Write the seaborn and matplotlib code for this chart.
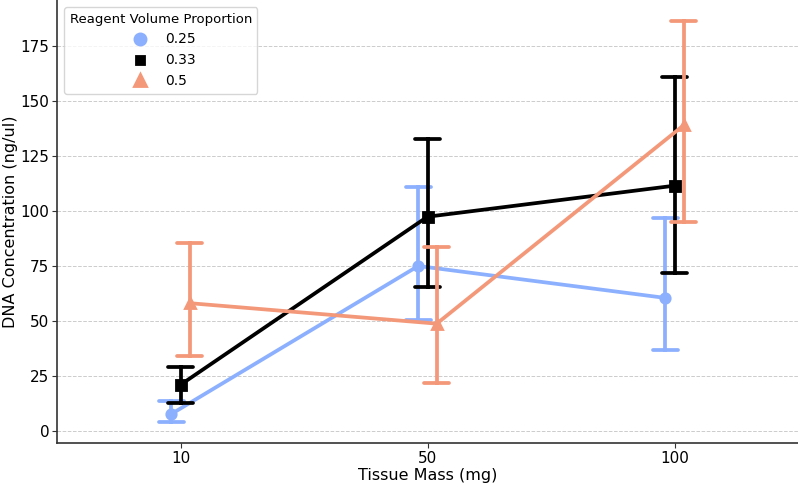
import pandas as pd
import matplotlib
matplotlib.use("Agg")
import matplotlib.pyplot as plt
import seaborn as sns

# Values: mean with lower / upper interval bounds
tissue_mass = ["10", "50", "100"]
proportions = ["0.25", "0.33", "0.5"]

mean_025 = [7.7, 75.0, 60.5]
low_025 = [4.0, 50.5, 36.8]
high_025 = [13.8, 110.8, 97.0]

mean_033 = [21.0, 97.4, 111.5]
low_033 = [12.8, 65.5, 71.6]
high_033 = [29.3, 132.6, 161.0]

mean_05 = [58.1, 48.8, 139.0]
low_05 = [34.0, 21.6, 94.8]
high_05 = [85.5, 83.5, 186.3]

PALETTE = ["#8db0fe", "#000000", "#f4987a"]

# Long table: lower/mean/upper rows so median + full range reproduce the bars
rows = []
for prop, means, lows, highs in zip(proportions,
                                    [mean_025, mean_033, mean_05],
                                    [low_025, low_033, low_05],
                                    [high_025, high_033, high_05]):
    for mass, m, lo, hi in zip(tissue_mass, means, lows, highs):
        for v in (lo, m, hi):
            rows.append({"Tissue Mass (mg)": mass,
                         "Reagent Volume Proportion": prop,
                         "DNA Concentration (ng/ul)": v})
df = pd.DataFrame(rows)

sns.set_style("ticks")
plt.rcParams["font.family"] = ["DejaVu Sans"]
plt.rcParams.update({"text.color": "black", "axes.labelcolor": "black",
                     "xtick.labelcolor": "black", "ytick.labelcolor": "black"})

fig = plt.figure(figsize=(7.98, 4.84), dpi=100)
ax = fig.add_axes([57 / 798, 41 / 484, 741 / 798, 443 / 484])

sns.pointplot(data=df, x="Tissue Mass (mg)", y="DNA Concentration (ng/ul)",
              hue="Reagent Volume Proportion", order=tissue_mass,
              hue_order=proportions, palette=PALETTE,
              markers=["o", "s", "^"], linestyles=["-", "-", "-"],
              estimator="median", errorbar=("pi", 100),
              dodge=True, capsize=0.1, ax=ax)

ax.set_xlim(-0.5, 2.5)
ax.set_ylim(-5.45, 195.9)
ax.set_yticks([0, 25, 50, 75, 100, 125, 150, 175])
ax.yaxis.grid(True, linestyle="--", color="#cccccc", linewidth=0.7)
ax.set_axisbelow(True)

for side in ["top", "right"]:
    ax.spines[side].set_visible(False)
for side in ["left", "bottom"]:
    ax.spines[side].set_color("#333333")
    ax.spines[side].set_linewidth(1.2)
ax.tick_params(axis="both", labelsize=11, color="#333333", length=3.5,
               width=0.8, pad=2)
ax.set_xlabel("Tissue Mass (mg)", fontsize=11.5, labelpad=2)
ax.set_ylabel("DNA Concentration (ng/ul)", fontsize=11.5, labelpad=2)

leg = ax.legend(title="Reagent Volume Proportion", loc="upper left",
                fontsize=10, title_fontsize=9.5)
for h, ms in zip(leg.legend_handles, [8, 6, 8]):
    h.set_linestyle("")
    h.set_markersize(ms)

fig.savefig("out.png", dpi=100)
